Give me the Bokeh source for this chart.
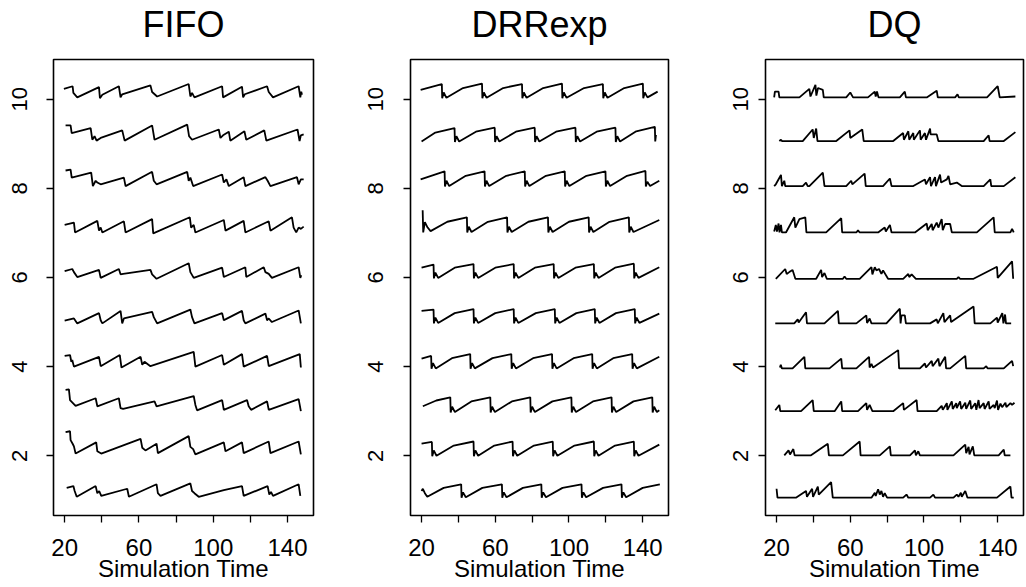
from bokeh.plotting import figure
from bokeh.layouts import row
from bokeh.models import FixedTicker, LinearAxis
from bokeh.embed import file_html
from bokeh.resources import INLINE

# ---------------- data ----------------
PANEL_TITLES = ["FIFO", "DRRexp", "DQ"]
X_LABEL = "Simulation Time"
X_TICKS = [20, 40, 60, 80, 100, 120, 140]
X_TICK_LABELS = ["20", "", "60", "", "100", "", "140"]
Y_TICKS = [2, 4, 6, 8, 10]
Y_TICK_LABELS = ["2", "4", "6", "8", "10"]

# ---- FIFO ----
fifo_t10 = [19.6, 24.3, 24.7, 26.8, 38.5, 39.0, 40.3, 49.2, 50.1, 51.0, 66.2, 67.1, 69.8, 86.8, 87.7, 88.6, 89.9, 104.8, 105.3, 115.5, 116.1, 117.0, 129.0, 129.9, 132.2, 146.0, 146.9, 147.4, 147.8]
fifo_q10 = [10.23, 10.29, 10.14, 10.04, 10.27, 10.02, 10.10, 10.29, 10.04, 10.11, 10.31, 10.16, 10.06, 10.34, 10.06, 10.14, 10.04, 10.29, 10.04, 10.28, 10.04, 10.11, 10.29, 10.16, 10.04, 10.29, 10.04, 10.17, 10.10]
fifo_t9 = [20.5, 23.2, 23.8, 34.0, 34.9, 36.1, 37.2, 39.4, 51.0, 52.3, 67.1, 68.4, 86.0, 87.0, 88.6, 103.0, 103.9, 105.3, 108.4, 109.2, 116.8, 117.8, 127.5, 128.6, 145.4, 146.5, 147.2, 148.7]
fifo_q9 = [9.41, 9.41, 9.24, 9.35, 9.09, 9.17, 9.07, 9.13, 9.30, 9.07, 9.41, 9.09, 9.43, 9.17, 9.09, 9.32, 9.13, 9.19, 9.27, 9.07, 9.28, 9.09, 9.30, 9.07, 9.32, 9.06, 9.19, 9.21]
fifo_t8 = [20.5, 23.2, 23.8, 34.3, 35.2, 36.7, 37.6, 39.4, 51.9, 52.8, 67.1, 68.0, 69.5, 86.0, 86.8, 87.7, 89.2, 104.8, 105.7, 107.1, 108.4, 116.4, 117.3, 128.1, 129.3, 130.8, 145.1, 146.0, 147.2, 148.7]
fifo_q8 = [8.40, 8.42, 8.24, 8.35, 8.05, 8.17, 8.13, 8.09, 8.24, 8.05, 8.37, 8.17, 8.09, 8.37, 8.17, 8.24, 8.05, 8.31, 8.13, 8.20, 8.05, 8.25, 8.05, 8.25, 8.17, 8.05, 8.25, 8.09, 8.20, 8.20]
fifo_t7 = [20.0, 25.0, 25.6, 37.6, 38.5, 39.4, 40.3, 51.9, 52.8, 67.1, 67.7, 87.4, 88.1, 89.5, 90.4, 105.7, 106.6, 116.4, 117.3, 129.9, 130.8, 142.4, 143.3, 144.7, 146.0, 147.2, 148.7]
fifo_q7 = [7.18, 7.23, 7.01, 7.27, 7.05, 7.12, 7.01, 7.26, 7.01, 7.31, 6.99, 7.35, 7.12, 7.18, 7.01, 7.29, 7.05, 7.27, 7.01, 7.26, 7.05, 7.35, 7.12, 7.01, 7.12, 7.09, 7.14]
fifo_t6 = [20.0, 24.1, 25.0, 26.8, 38.5, 39.4, 49.2, 50.1, 51.5, 66.2, 67.1, 69.5, 86.8, 87.7, 89.5, 104.8, 105.7, 117.3, 117.8, 127.2, 128.1, 129.9, 131.6, 146.0, 146.9, 147.4]
fifo_q6 = [6.14, 6.19, 6.12, 6.01, 6.17, 5.99, 6.19, 6.07, 6.08, 6.17, 6.07, 5.97, 6.32, 6.12, 5.99, 6.22, 6.01, 6.23, 6.01, 6.23, 6.12, 6.08, 5.99, 6.23, 5.99, 6.05]
fifo_t5 = [20.0, 25.0, 26.8, 38.5, 39.4, 40.3, 50.1, 51.0, 51.9, 67.1, 68.0, 69.8, 87.7, 88.6, 89.9, 104.8, 105.7, 107.1, 115.5, 116.4, 117.3, 128.1, 129.0, 129.9, 131.6, 146.0, 147.2]
fifo_q5 = [5.03, 5.08, 4.97, 5.20, 5.04, 4.97, 5.25, 4.97, 5.08, 5.23, 5.11, 4.97, 5.28, 5.11, 4.97, 5.20, 5.04, 5.07, 5.25, 5.04, 4.97, 5.19, 5.04, 5.08, 5.00, 5.26, 4.97]
fifo_t4 = [20.0, 22.9, 23.6, 24.1, 25.0, 38.5, 39.4, 49.7, 50.6, 60.9, 61.8, 63.0, 66.2, 89.5, 90.4, 104.8, 105.7, 115.5, 116.4, 129.0, 129.9, 146.6, 147.2]
fifo_q4 = [4.24, 4.26, 4.11, 4.15, 4.00, 4.22, 4.01, 4.26, 3.98, 4.22, 4.04, 4.11, 4.01, 4.33, 4.00, 4.26, 4.04, 4.28, 4.00, 4.24, 4.01, 4.28, 3.98]
fifo_t3 = [20.5, 22.3, 22.9, 25.9, 36.7, 37.6, 49.2, 50.1, 51.5, 68.4, 69.5, 89.5, 90.4, 91.3, 104.8, 105.7, 118.2, 119.1, 120.4, 129.0, 129.9, 146.0, 147.2]
fifo_q3 = [3.48, 3.49, 3.25, 3.12, 3.29, 3.11, 3.29, 3.07, 3.05, 3.22, 3.11, 3.34, 3.14, 3.02, 3.25, 3.03, 3.25, 3.11, 3.03, 3.22, 3.03, 3.27, 3.00]
fifo_t2 = [20.5, 22.9, 23.2, 24.3, 25.0, 25.9, 37.0, 37.6, 39.7, 60.9, 61.8, 63.5, 69.5, 70.2, 86.8, 87.7, 89.2, 90.4, 105.7, 106.6, 115.5, 116.4, 129.9, 130.8, 146.0, 147.2]
fifo_q2 = [2.53, 2.55, 2.35, 2.27, 2.21, 2.05, 2.30, 2.10, 2.05, 2.38, 2.18, 2.12, 2.27, 2.06, 2.44, 2.20, 2.15, 2.03, 2.30, 2.10, 2.30, 2.06, 2.32, 2.06, 2.32, 2.03]
fifo_t1 = [21.1, 24.7, 25.4, 26.5, 36.7, 37.6, 38.6, 39.7, 53.7, 54.6, 69.5, 70.2, 71.6, 87.7, 88.6, 89.9, 92.2, 105.7, 115.5, 116.4, 129.3, 130.2, 131.1, 132.2, 146.0, 146.9]
fifo_q1 = [1.28, 1.32, 1.21, 1.08, 1.32, 1.16, 1.21, 1.10, 1.26, 1.08, 1.36, 1.16, 1.10, 1.38, 1.21, 1.16, 1.08, 1.23, 1.32, 1.10, 1.32, 1.13, 1.19, 1.10, 1.36, 1.10]

# ---- DRRexp ----
drr_t10 = [19.5, 31.0, 31.2, 32.0, 33.5, 42.5, 52.8, 53.0, 53.8, 55.3, 64.3, 74.5, 74.7, 75.5, 77.0, 86.0, 96.2, 96.4, 97.2, 98.7, 108.2, 118.4, 118.6, 119.4, 120.9, 130.0, 140.1, 140.3, 141.1, 142.6, 148.1]
drr_q10 = [10.21, 10.34, 10.02, 10.15, 10.03, 10.25, 10.35, 10.02, 10.15, 10.03, 10.25, 10.34, 10.02, 10.15, 10.03, 10.25, 10.35, 10.02, 10.15, 10.03, 10.25, 10.34, 10.02, 10.15, 10.03, 10.25, 10.35, 10.02, 10.15, 10.04, 10.17]
drr_t9 = [20.0, 27.5, 37.9, 38.1, 38.9, 40.4, 49.5, 59.7, 59.9, 60.7, 62.2, 71.2, 81.4, 81.6, 82.4, 83.9, 93.0, 103.5, 103.7, 104.5, 106.0, 115.0, 125.2, 125.4, 126.2, 127.7, 136.5, 146.6, 146.8, 147.2]
drr_q9 = [9.05, 9.25, 9.35, 9.04, 9.17, 9.05, 9.27, 9.36, 9.04, 9.17, 9.05, 9.27, 9.36, 9.04, 9.17, 9.05, 9.27, 9.36, 9.04, 9.17, 9.05, 9.27, 9.36, 9.04, 9.17, 9.05, 9.28, 9.38, 9.05, 9.20]
drr_t8 = [19.5, 32.5, 32.7, 33.5, 35.0, 44.0, 54.2, 54.4, 55.2, 56.7, 66.0, 76.0, 76.2, 77.0, 78.5, 87.5, 97.7, 97.9, 98.7, 100.2, 109.5, 119.8, 120.0, 120.8, 122.3, 131.5, 141.5, 141.7, 142.5, 144.0, 149.0]
drr_q8 = [8.20, 8.38, 8.04, 8.17, 8.05, 8.28, 8.38, 8.04, 8.17, 8.05, 8.28, 8.38, 8.04, 8.17, 8.05, 8.28, 8.38, 8.04, 8.17, 8.05, 8.28, 8.38, 8.04, 8.17, 8.05, 8.28, 8.39, 8.04, 8.15, 8.05, 8.17]
drr_t7 = [20.6, 20.9, 21.8, 23.3, 24.9, 34.0, 44.6, 44.8, 45.6, 47.1, 56.0, 66.4, 66.6, 67.4, 68.9, 78.0, 88.6, 88.8, 89.6, 91.1, 100.0, 110.7, 110.9, 111.7, 113.2, 122.0, 132.5, 132.7, 133.5, 135.0, 149.0]
drr_q7 = [7.51, 7.01, 7.24, 7.12, 7.04, 7.25, 7.35, 7.01, 7.14, 7.02, 7.25, 7.35, 7.01, 7.14, 7.02, 7.25, 7.35, 7.01, 7.14, 7.02, 7.25, 7.35, 7.01, 7.14, 7.02, 7.25, 7.35, 7.01, 7.14, 7.02, 7.29]
drr_t6 = [20.0, 26.5, 26.7, 27.5, 29.0, 38.0, 48.2, 48.4, 49.2, 50.7, 60.0, 70.0, 70.2, 71.0, 72.5, 81.5, 91.7, 91.9, 92.7, 94.2, 103.5, 113.5, 113.7, 114.5, 116.0, 125.0, 135.2, 135.4, 136.2, 137.7, 149.0]
drr_q6 = [6.22, 6.29, 5.98, 6.11, 5.99, 6.22, 6.30, 5.98, 6.11, 5.99, 6.22, 6.30, 5.98, 6.11, 5.99, 6.22, 6.30, 5.98, 6.11, 5.99, 6.22, 6.30, 5.98, 6.11, 5.99, 6.22, 6.31, 5.98, 6.11, 5.99, 6.23]
drr_t5 = [20.0, 26.5, 26.7, 27.5, 29.0, 38.0, 48.2, 48.4, 49.2, 50.7, 60.0, 70.0, 70.2, 71.0, 72.5, 82.0, 92.3, 92.5, 93.3, 94.8, 104.0, 114.0, 114.2, 115.0, 116.5, 125.5, 135.7, 135.9, 136.7, 138.2, 149.0]
drr_q5 = [5.25, 5.28, 4.97, 5.10, 4.98, 5.20, 5.29, 4.97, 5.10, 4.98, 5.20, 5.29, 4.97, 5.10, 4.98, 5.20, 5.29, 4.97, 5.10, 4.98, 5.20, 5.29, 4.97, 5.10, 4.98, 5.20, 5.29, 4.97, 5.10, 4.98, 5.19]
drr_t4 = [20.0, 25.2, 25.4, 26.2, 27.7, 36.5, 46.4, 46.6, 47.4, 48.9, 58.5, 68.7, 68.9, 69.7, 71.2, 80.5, 90.8, 91.0, 91.8, 93.3, 102.5, 112.6, 112.8, 113.6, 115.1, 124.0, 134.3, 134.5, 135.3, 136.8, 149.0]
drr_q4 = [4.18, 4.24, 3.95, 4.08, 3.96, 4.19, 4.28, 3.95, 4.08, 3.96, 4.19, 4.28, 3.95, 4.08, 3.96, 4.19, 4.28, 3.95, 4.08, 3.96, 4.19, 4.28, 3.95, 4.08, 3.96, 4.19, 4.28, 3.95, 4.08, 3.96, 4.22]
drr_t3 = [20.7, 28.0, 35.6, 35.8, 36.6, 38.1, 47.0, 57.3, 57.5, 58.3, 59.8, 69.0, 79.0, 79.2, 80.0, 81.5, 91.0, 101.3, 101.5, 102.3, 103.8, 113.0, 123.1, 123.3, 124.1, 125.6, 135.0, 145.2, 145.4, 146.2, 147.7, 149.0]
drr_q3 = [3.11, 3.24, 3.31, 2.97, 3.10, 2.98, 3.22, 3.31, 2.97, 3.10, 2.98, 3.22, 3.31, 2.97, 3.10, 2.98, 3.22, 3.31, 2.97, 3.10, 2.98, 3.22, 3.31, 2.97, 3.10, 2.98, 3.22, 3.31, 2.97, 3.10, 2.98, 3.02]
drr_t2 = [20.0, 25.6, 25.8, 26.6, 28.1, 37.5, 48.2, 48.4, 49.2, 50.7, 59.5, 69.4, 69.6, 70.4, 71.9, 81.0, 91.2, 91.4, 92.2, 93.7, 103.0, 113.5, 113.7, 114.5, 116.0, 125.0, 135.2, 135.4, 136.2, 137.7, 149.0]
drr_q2 = [2.27, 2.31, 1.99, 2.12, 2.00, 2.23, 2.32, 1.99, 2.12, 2.00, 2.23, 2.32, 1.99, 2.12, 2.00, 2.23, 2.32, 1.99, 2.12, 2.00, 2.23, 2.32, 1.99, 2.12, 2.00, 2.23, 2.32, 1.99, 2.12, 2.00, 2.25]
drr_t1 = [20.0, 20.7, 21.8, 23.1, 32.0, 41.5, 41.7, 42.5, 44.0, 53.0, 63.6, 63.8, 64.6, 66.1, 75.0, 85.0, 85.2, 86.0, 87.5, 96.5, 106.8, 107.0, 107.8, 109.3, 118.5, 128.5, 128.7, 129.5, 131.0, 140.0, 149.3]
drr_q1 = [1.21, 1.26, 1.16, 1.08, 1.28, 1.36, 1.06, 1.18, 1.07, 1.28, 1.36, 1.06, 1.18, 1.07, 1.28, 1.36, 1.06, 1.18, 1.07, 1.28, 1.36, 1.06, 1.18, 1.07, 1.28, 1.36, 1.06, 1.18, 1.07, 1.28, 1.36]

# ---- DQ ----
dq_t10 = [18.7, 19.1, 21.1, 21.5, 32.4, 37.8, 38.4, 41.1, 41.6, 42.5, 45.1, 45.6, 57.8, 60.0, 61.5, 69.6, 73.3, 73.8, 74.5, 75.3, 86.9, 89.6, 90.2, 101.5, 106.9, 107.5, 116.9, 118.2, 118.9, 134.2, 140.0, 141.1, 149.6]
dq_q10 = [10.04, 10.17, 10.17, 10.04, 10.04, 10.23, 10.06, 10.32, 10.08, 10.25, 10.21, 10.04, 10.04, 10.15, 10.04, 10.04, 10.17, 10.06, 10.17, 10.04, 10.04, 10.17, 10.04, 10.04, 10.19, 10.04, 10.04, 10.11, 10.04, 10.04, 10.29, 10.04, 10.06]
dq_t9 = [21.5, 22.4, 23.0, 34.2, 39.6, 40.2, 41.5, 42.2, 52.4, 59.6, 60.0, 66.5, 67.3, 83.3, 88.7, 89.1, 91.5, 92.0, 94.2, 94.5, 97.8, 98.2, 100.5, 101.1, 103.3, 103.6, 106.9, 107.8, 132.4, 135.1, 135.6, 143.3, 149.6]
dq_q9 = [9.06, 9.09, 9.06, 9.06, 9.32, 9.13, 9.34, 9.06, 9.06, 9.30, 9.13, 9.32, 9.06, 9.06, 9.24, 9.09, 9.28, 9.09, 9.24, 9.09, 9.30, 9.09, 9.24, 9.09, 9.34, 9.21, 9.21, 9.06, 9.06, 9.19, 9.06, 9.06, 9.26]
dq_t8 = [18.7, 19.6, 22.4, 22.9, 24.2, 24.7, 34.2, 36.0, 36.9, 37.8, 45.1, 46.0, 57.8, 60.5, 61.1, 67.8, 68.4, 77.8, 81.5, 82.4, 94.2, 100.5, 101.1, 103.3, 103.8, 105.1, 106.0, 106.5, 108.7, 109.3, 112.4, 113.3, 114.2, 117.8, 120.5, 132.4, 136.0, 136.5, 143.3, 149.6]
dq_q8 = [8.05, 8.09, 8.30, 8.05, 8.17, 8.05, 8.05, 8.13, 8.05, 8.05, 8.35, 8.05, 8.05, 8.17, 8.09, 8.33, 8.05, 8.05, 8.22, 8.05, 8.05, 8.20, 8.09, 8.25, 8.05, 8.17, 8.25, 8.05, 8.31, 8.13, 8.20, 8.28, 8.09, 8.13, 8.05, 8.05, 8.20, 8.05, 8.05, 8.25]
dq_t7 = [18.7, 19.6, 20.2, 21.1, 21.6, 22.4, 22.9, 25.1, 29.6, 30.2, 32.4, 35.6, 36.2, 46.9, 55.1, 55.6, 63.3, 64.2, 65.1, 75.1, 78.7, 79.3, 81.5, 82.4, 95.1, 101.5, 102.0, 104.2, 104.7, 106.9, 107.8, 109.6, 110.2, 111.5, 114.2, 115.1, 128.7, 137.8, 138.4, 146.9, 147.8, 148.7]
dq_q7 = [7.03, 7.18, 7.03, 7.21, 7.01, 7.18, 7.01, 7.01, 7.35, 7.12, 7.31, 7.35, 7.01, 7.01, 7.33, 7.01, 7.01, 7.06, 7.01, 7.01, 7.12, 7.03, 7.18, 7.01, 7.01, 7.21, 7.06, 7.20, 7.06, 7.23, 7.12, 7.31, 7.06, 7.20, 7.20, 7.01, 7.01, 7.35, 7.01, 7.01, 7.09, 7.01]
dq_t6 = [19.6, 24.7, 25.5, 26.9, 28.7, 30.2, 41.5, 44.2, 44.7, 46.0, 47.3, 56.0, 56.9, 57.8, 65.1, 71.5, 72.0, 73.3, 74.2, 75.6, 76.9, 77.8, 80.5, 88.7, 91.5, 92.0, 93.3, 95.6, 117.8, 118.7, 119.6, 126.9, 139.6, 140.0, 147.8, 148.4]
dq_q6 = [5.97, 6.19, 6.08, 6.12, 6.17, 5.97, 5.97, 6.17, 6.01, 6.10, 5.97, 5.97, 6.02, 5.97, 5.97, 6.23, 6.07, 6.23, 6.16, 6.19, 6.08, 6.16, 5.97, 5.97, 6.08, 6.01, 6.07, 5.97, 5.97, 6.01, 5.97, 5.97, 6.24, 5.99, 6.36, 5.97]
dq_t5 = [19.3, 29.6, 31.5, 32.0, 36.0, 36.5, 46.0, 53.3, 53.8, 63.3, 68.7, 69.1, 70.5, 71.5, 79.6, 86.9, 87.3, 87.8, 89.6, 90.2, 103.3, 106.9, 107.5, 110.5, 111.1, 114.2, 114.7, 126.9, 127.5, 136.0, 139.6, 140.0, 142.5, 143.1, 144.0, 144.5, 147.3]
dq_q5 = [4.97, 4.97, 5.06, 4.99, 5.22, 4.97, 4.97, 5.25, 4.97, 4.97, 5.15, 4.98, 5.08, 4.97, 4.97, 5.30, 4.97, 5.15, 5.15, 4.97, 4.97, 5.06, 4.97, 5.20, 5.00, 5.15, 5.00, 5.35, 4.97, 4.97, 5.10, 4.99, 5.20, 4.97, 5.17, 4.97, 4.97]
dq_t4 = [21.8, 22.3, 22.9, 28.7, 35.1, 35.6, 48.7, 55.1, 55.6, 63.3, 70.2, 70.5, 71.5, 72.4, 86.0, 86.5, 97.8, 100.5, 101.1, 104.2, 104.7, 107.8, 108.4, 111.5, 112.0, 114.2, 122.4, 122.9, 132.4, 133.8, 134.5, 143.3, 147.8, 148.4]
dq_q4 = [3.98, 4.04, 3.96, 3.96, 4.22, 3.96, 3.96, 4.18, 3.96, 3.96, 4.22, 3.98, 4.06, 3.98, 4.37, 3.96, 3.96, 4.07, 3.98, 4.13, 4.01, 4.18, 4.01, 4.22, 3.96, 3.96, 4.24, 3.96, 3.96, 4.01, 3.96, 3.96, 4.13, 4.01]
dq_t3 = [19.3, 21.5, 22.0, 33.3, 39.6, 40.2, 51.5, 55.1, 55.6, 64.2, 68.7, 69.1, 70.5, 72.0, 83.3, 88.7, 89.1, 96.0, 96.5, 106.9, 109.6, 110.2, 112.4, 112.7, 115.1, 115.6, 117.5, 117.8, 119.6, 120.2, 122.4, 122.9, 125.1, 125.6, 127.8, 128.4, 129.6, 130.2, 132.4, 132.9, 135.1, 135.6, 137.8, 138.4, 139.6, 140.2, 141.5, 142.4, 144.2, 144.7, 146.9, 147.8, 149.1]
dq_q3 = [3.02, 3.14, 3.00, 3.00, 3.25, 3.00, 3.00, 3.22, 3.00, 3.00, 3.18, 3.03, 3.14, 3.00, 3.00, 3.18, 3.03, 3.25, 3.00, 3.00, 3.12, 3.03, 3.18, 3.03, 3.22, 3.05, 3.18, 3.07, 3.22, 3.05, 3.19, 3.05, 3.24, 3.05, 3.18, 3.03, 3.25, 3.07, 3.18, 3.05, 3.22, 3.05, 3.14, 3.07, 3.24, 3.03, 3.17, 3.09, 3.19, 3.09, 3.18, 3.14, 3.19]
dq_t2 = [24.2, 26.5, 27.3, 29.1, 29.8, 38.7, 47.8, 48.4, 56.0, 65.1, 65.6, 76.0, 81.5, 82.0, 92.4, 95.1, 95.6, 96.9, 97.8, 116.0, 122.4, 122.9, 124.2, 124.7, 126.5, 127.3, 140.5, 143.3, 143.8, 146.9]
dq_q2 = [2.01, 2.12, 2.03, 2.15, 2.01, 2.01, 2.27, 2.01, 2.01, 2.32, 2.01, 2.01, 2.21, 2.01, 2.01, 2.12, 2.01, 2.10, 2.01, 2.01, 2.25, 2.06, 2.20, 2.03, 2.21, 2.01, 2.01, 2.14, 2.01, 2.01]
dq_t1 = [20.0, 20.5, 30.5, 36.0, 36.5, 39.3, 39.8, 42.4, 42.9, 49.6, 50.5, 71.5, 73.3, 73.8, 75.1, 76.0, 76.9, 77.8, 78.7, 80.0, 88.7, 90.5, 91.5, 103.3, 105.1, 106.0, 116.0, 117.8, 118.7, 120.0, 120.5, 122.4, 123.6, 139.6, 146.9, 147.5, 148.7]
dq_q1 = [1.26, 1.06, 1.06, 1.21, 1.08, 1.26, 1.08, 1.31, 1.13, 1.41, 1.06, 1.06, 1.17, 1.10, 1.25, 1.13, 1.21, 1.08, 1.16, 1.06, 1.06, 1.13, 1.06, 1.06, 1.13, 1.06, 1.06, 1.13, 1.08, 1.17, 1.08, 1.21, 1.06, 1.06, 1.31, 1.06, 1.06]

FIFO_TRACES = [(fifo_t1, fifo_q1), (fifo_t2, fifo_q2), (fifo_t3, fifo_q3), (fifo_t4, fifo_q4), (fifo_t5, fifo_q5),
               (fifo_t6, fifo_q6), (fifo_t7, fifo_q7), (fifo_t8, fifo_q8), (fifo_t9, fifo_q9), (fifo_t10, fifo_q10)]
DRR_TRACES = [(drr_t1, drr_q1), (drr_t2, drr_q2), (drr_t3, drr_q3), (drr_t4, drr_q4), (drr_t5, drr_q5),
              (drr_t6, drr_q6), (drr_t7, drr_q7), (drr_t8, drr_q8), (drr_t9, drr_q9), (drr_t10, drr_q10)]
DQ_TRACES = [(dq_t1, dq_q1), (dq_t2, dq_q2), (dq_t3, dq_q3), (dq_t4, dq_q4), (dq_t5, dq_q5),
             (dq_t6, dq_q6), (dq_t7, dq_q7), (dq_t8, dq_q8), (dq_t9, dq_q9), (dq_t10, dq_q10)]

# ---------------- drawing ----------------
FONT = "Liberation Sans"
HEIGHT = 587


def make_panel(title, traces, width, border_left, border_right, ylab_standoff):
    p = figure(width=width, height=HEIGHT, x_range=(14, 154), y_range=(0.66, 10.89),
               output_backend="svg", toolbar_location=None, title=None,
               min_border_left=border_left, min_border_right=border_right,
               min_border_top=58, min_border_bottom=72)
    p.background_fill_color = "white"
    p.border_fill_color = "white"
    p.outline_line_color = "black"
    p.outline_line_width = 1.6
    p.xgrid.visible = False
    p.ygrid.visible = False

    bottom = p.below[0]
    left = p.left[0]

    bottom.ticker = FixedTicker(ticks=X_TICKS)
    bottom.major_label_overrides = {t: s for t, s in zip(X_TICKS, X_TICK_LABELS)}
    left.ticker = FixedTicker(ticks=Y_TICKS)
    left.major_label_overrides = {t: s for t, s in zip(Y_TICKS, Y_TICK_LABELS)}
    left.major_label_orientation = "parallel"

    for ax in (bottom, left):
        ax.axis_line_color = None
        ax.major_tick_in = 0
        ax.major_tick_out = 7
        ax.major_tick_line_width = 1.3
        ax.major_tick_line_color = "black"
        ax.minor_tick_line_color = None
        ax.major_label_text_font = FONT
        ax.major_label_text_color = "black"

    bottom.major_label_text_font_size = "24px"
    bottom.major_label_standoff = 16
    left.major_label_text_font_size = "22px"
    left.major_label_standoff = ylab_standoff

    bottom.axis_label = X_LABEL
    bottom.axis_label_text_font = FONT
    bottom.axis_label_text_font_size = "24px"
    bottom.axis_label_text_font_style = "normal"
    bottom.axis_label_text_color = "black"
    bottom.axis_label_standoff = -4

    # panel title: the label of an empty axis placed above the frame
    top = LinearAxis(ticker=FixedTicker(ticks=[]), axis_label=title)
    top.axis_line_color = None
    top.major_tick_line_color = None
    top.minor_tick_line_color = None
    top.major_tick_out = 0
    top.major_tick_in = 0
    top.major_label_standoff = 0
    top.major_label_text_font_size = "0px"
    top.axis_label_text_font = FONT
    top.axis_label_text_font_size = "36px"
    top.axis_label_text_font_style = "normal"
    top.axis_label_text_color = "black"
    top.axis_label_standoff = 15
    p.add_layout(top, "above")

    for t, q in traces:
        n = min(len(t), len(q))
        p.line(t[:n], q[:n], line_color="black", line_width=1.8)
    return p


p1 = make_panel(PANEL_TITLES[0], FIFO_TRACES, 355, 53, 42, 19)
p2 = make_panel(PANEL_TITLES[1], DRR_TRACES, 357, 55, 44, 20)
p3 = make_panel(PANEL_TITLES[2], DQ_TRACES, 314, 53, 3, 10)

layout = row(p1, p2, p3)
open("out.html", "w").write(file_html(layout, INLINE))
